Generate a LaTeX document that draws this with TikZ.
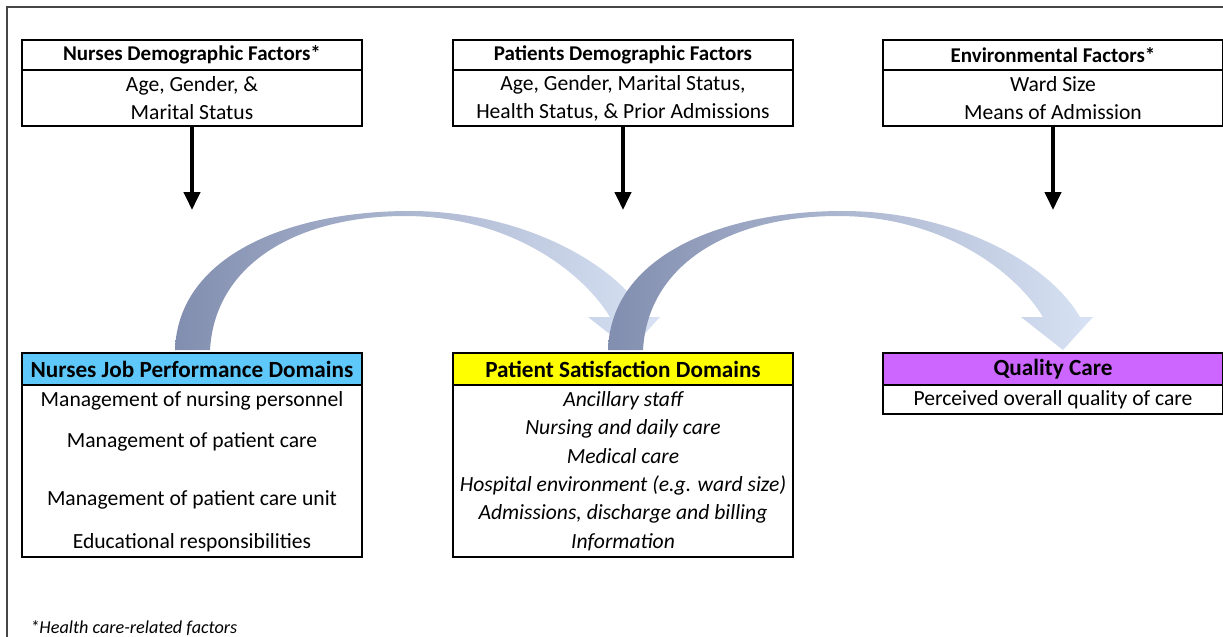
\documentclass[tikz,border=0pt]{standalone}
\usepackage{fontspec}
\setmainfont{Carlito}
\usetikzlibrary{arrows.meta,positioning}

\definecolor{jobblue}{RGB}{94,200,250}
\definecolor{satyellow}{RGB}{255,255,0}
\definecolor{carepurple}{RGB}{204,102,255}
\definecolor{arcdark}{RGB}{130,142,175}
\definecolor{arcmid}{RGB}{156,176,218}
\definecolor{arcpale}{RGB}{216,226,244}
\definecolor{framegray}{RGB}{70,70,70}

\tikzset{
  factorhead/.style={draw, line width=1.4pt, outer sep=0pt, inner sep=0pt,
    minimum width=170pt, minimum height=15pt, anchor=north west,
    font=\fontsize{10.5}{12}\selectfont\bfseries},
  factorbody/.style={draw, line width=1.4pt, outer sep=0pt, inner sep=0pt,
    minimum width=170pt, minimum height=28pt, align=center,
    font=\fontsize{10.8}{14}\selectfont},
  domainhead/.style={factorhead, minimum height=16pt,
    font=\fontsize{11.6}{13}\selectfont\bfseries},
  domainbody/.style={factorbody},
  itemtext/.style={font=\fontsize{10.8}{12}\selectfont},
  feedarrow/.style={line width=2pt, -{Triangle[width=8pt,length=9pt]}},
  flowarc/.style={left color=arcdark, middle color=arcmid, right color=arcpale}
}

\begin{document}
\begin{tikzpicture}[x=0.5pt,y=-0.5pt]
\useasboundingbox (0,0) rectangle (1223,637);
\draw[framegray, line width=0.8pt] (7,637) -- (7,7) -- (1223,7);

% factor boxes along the top
\node[factorhead] (nursefac) at (22,40) {Nurses Demographic Factors*};
\node[factorbody, below=0pt of nursefac] (nursefacb) {Age, Gender, \&\\Marital Status};
\node[factorhead] (patfac) at (453,40) {Patients Demographic Factors};
\node[factorbody, below=0pt of patfac] (patfacb) {Age, Gender, Marital Status,\\Health Status, \& Prior Admissions};
\node[factorhead] (envfac) at (883,40) {Environmental Factors*};
\node[factorbody, below=0pt of envfac] (envfacb) {Ward Size\\Means of Admission};

\coordinate (nurseend) at (nursefacb.south |- 0,210);
\coordinate (patend) at (patfacb.south |- 0,210);
\coordinate (envend) at (envfacb.south |- 0,210);
\draw[feedarrow] (nursefacb) -- (nurseend);
\draw[feedarrow] (patfacb) -- (patend);
\draw[feedarrow] (envfacb) -- (envend);

% curved arrows between the domains
\foreach \dx in {0,433}{
  \shade[flowarc, shift={(\dx,0)}] (175,350) .. controls (178,255) and (290,211) .. (410,211)
    .. controls (520,211) and (615,262) .. (647,317) -- (660,317) -- (630,350) -- (588,317)
    -- (610,317) .. controls (580,268) and (505,216) .. (405,216)
    .. controls (300,216) and (215,262) .. (210,350) -- cycle;
}

% domain boxes
\node[domainhead, fill=jobblue] (jobdom) at (22,353) {Nurses Job Performance Domains};
\node[domainbody, below=0pt of jobdom, minimum height=86pt] (jobdomb) {};
\node[itemtext] at (192,401) {Management of nursing personnel};
\node[itemtext] at (192,442) {Management of patient care};
\node[itemtext] at (192,500) {Management of patient care unit};
\node[itemtext] at (192,543) {Educational responsibilities};

\node[domainhead, fill=satyellow] (satdom) at (453,353) {Patient Satisfaction Domains};
\node[domainbody, below=0pt of satdom, minimum height=86pt, font=\fontsize{10.8}{14.2}\selectfont\itshape] (satdomb)
  {Ancillary staff\\Nursing and daily care\\Medical care\\Hospital environment (e.g. ward size)\\Admissions, discharge and billing\\Information};

\node[domainhead, fill=carepurple] (caredom) at (883,353) {Quality Care};
\node[domainbody, below=0pt of caredom, minimum height=14.5pt] (caredomb) {Perceived overall quality of care};

\node[anchor=base west, inner sep=0pt, font=\fontsize{9.1}{10}\selectfont\itshape] (note) at (30,633) {*Health care-related factors};
\end{tikzpicture}
\end{document}
